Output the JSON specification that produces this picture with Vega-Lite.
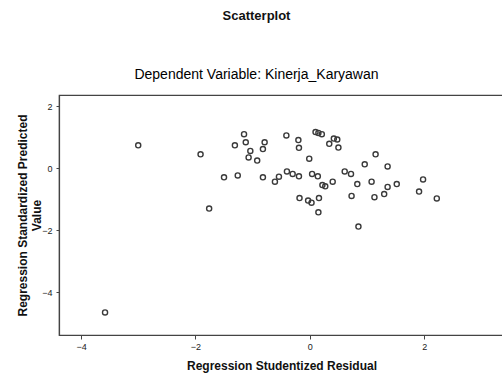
{
  "$schema": "https://vega.github.io/schema/vega-lite/v6.json",
  "width": 445,
  "height": 240,
  "autosize": {"type": "none"},
  "padding": {"left": 59, "top": 95, "right": 0, "bottom": 39},
  "background": "white",
  "config": {
    "font": "Liberation Sans",
    "view": {"stroke": "#444444", "strokeWidth": 1.2},
    "axis": {
      "domainColor": "#444444",
      "domainWidth": 1.2,
      "tickColor": "#444444",
      "grid": false,
      "labelFont": "Liberation Sans",
      "labelFontSize": 9,
      "labelColor": "#222222",
      "titleFont": "Liberation Sans",
      "titleFontSize": 12,
      "titleFontWeight": "bold",
      "titleColor": "#111111"
    }
  },
  "title": {
    "text": "Scatterplot",
    "subtitle": "Dependent Variable: Kinerja_Karyawan",
    "anchor": "middle",
    "frame": "group",
    "dx": -25,
    "offset": 13,
    "font": "Liberation Sans",
    "fontSize": 13,
    "fontWeight": "bold",
    "color": "#111111",
    "subtitleFont": "Liberation Sans",
    "subtitleFontSize": 14,
    "subtitleColor": "#000000",
    "subtitlePadding": 45
  },
  "data": {
    "values": [
      {"resid": -3.58, "pred": -4.66},
      {"resid": -3.00, "pred": 0.73},
      {"resid": -1.91, "pred": 0.44},
      {"resid": -1.76, "pred": -1.31},
      {"resid": -1.50, "pred": -0.30},
      {"resid": -1.31, "pred": 0.73},
      {"resid": -1.26, "pred": -0.24},
      {"resid": -1.15, "pred": 1.09},
      {"resid": -1.12, "pred": 0.83},
      {"resid": -1.04, "pred": 0.55},
      {"resid": -1.07, "pred": 0.34},
      {"resid": -0.92, "pred": 0.24},
      {"resid": -0.79, "pred": 0.83},
      {"resid": -0.82, "pred": 0.61},
      {"resid": -0.82, "pred": -0.30},
      {"resid": -0.61, "pred": -0.44},
      {"resid": -0.54, "pred": -0.28},
      {"resid": -0.41, "pred": 1.05},
      {"resid": -0.20, "pred": 0.90},
      {"resid": -0.19, "pred": 0.65},
      {"resid": -0.01, "pred": 0.30},
      {"resid": -0.40, "pred": -0.11},
      {"resid": -0.30, "pred": -0.19},
      {"resid": -0.19, "pred": -0.27},
      {"resid": 0.04, "pred": -0.19},
      {"resid": 0.14, "pred": -0.27},
      {"resid": 0.10, "pred": 1.16},
      {"resid": 0.15, "pred": 1.13},
      {"resid": 0.21, "pred": 1.09},
      {"resid": 0.34, "pred": 0.78},
      {"resid": 0.42, "pred": 0.95},
      {"resid": 0.48, "pred": 0.92},
      {"resid": 0.50, "pred": 0.66},
      {"resid": 0.22, "pred": -0.55},
      {"resid": 0.27, "pred": -0.59},
      {"resid": 0.40, "pred": -0.44},
      {"resid": 0.61, "pred": -0.11},
      {"resid": 0.72, "pred": -0.19},
      {"resid": 0.96, "pred": 0.12},
      {"resid": 1.15, "pred": 0.44},
      {"resid": 1.36, "pred": 0.05},
      {"resid": 0.83, "pred": -0.52},
      {"resid": 1.08, "pred": -0.44},
      {"resid": 1.36, "pred": -0.61},
      {"resid": 1.52, "pred": -0.52},
      {"resid": -0.18, "pred": -0.97},
      {"resid": -0.03, "pred": -1.05},
      {"resid": 0.03, "pred": -1.12},
      {"resid": 0.16, "pred": -0.97},
      {"resid": 0.15, "pred": -1.43},
      {"resid": 0.73, "pred": -0.90},
      {"resid": 1.13, "pred": -0.94},
      {"resid": 1.30, "pred": -0.84},
      {"resid": 1.91, "pred": -0.76},
      {"resid": 1.98, "pred": -0.37},
      {"resid": 2.22, "pred": -0.98},
      {"resid": 0.85, "pred": -1.89}
    ]
  },
  "mark": {"type": "point", "shape": "circle", "filled": false, "stroke": "#3a3a3a", "strokeWidth": 1.4, "size": 26, "opacity": 1, "clip": true},
  "encoding": {
    "x": {
      "field": "resid",
      "type": "quantitative",
      "scale": {"domain": [-4.385, 3.395], "nice": false, "zero": false},
      "axis": {
        "title": "Regression Studentized Residual",
        "values": [-4, -2, 0, 2],
        "tickSize": 4,
        "labelPadding": 3,
        "titlePadding": 9
      }
    },
    "y": {
      "field": "pred",
      "type": "quantitative",
      "scale": {"domain": [-5.387, 2.355], "nice": false, "zero": false},
      "axis": {
        "title": ["Regression Standardized Predicted", "Value"],
        "titleLineHeight": 14,
        "values": [2, 0, -2, -4],
        "tickSize": 3,
        "labelPadding": 4,
        "titlePadding": -2
      }
    }
  }
}
